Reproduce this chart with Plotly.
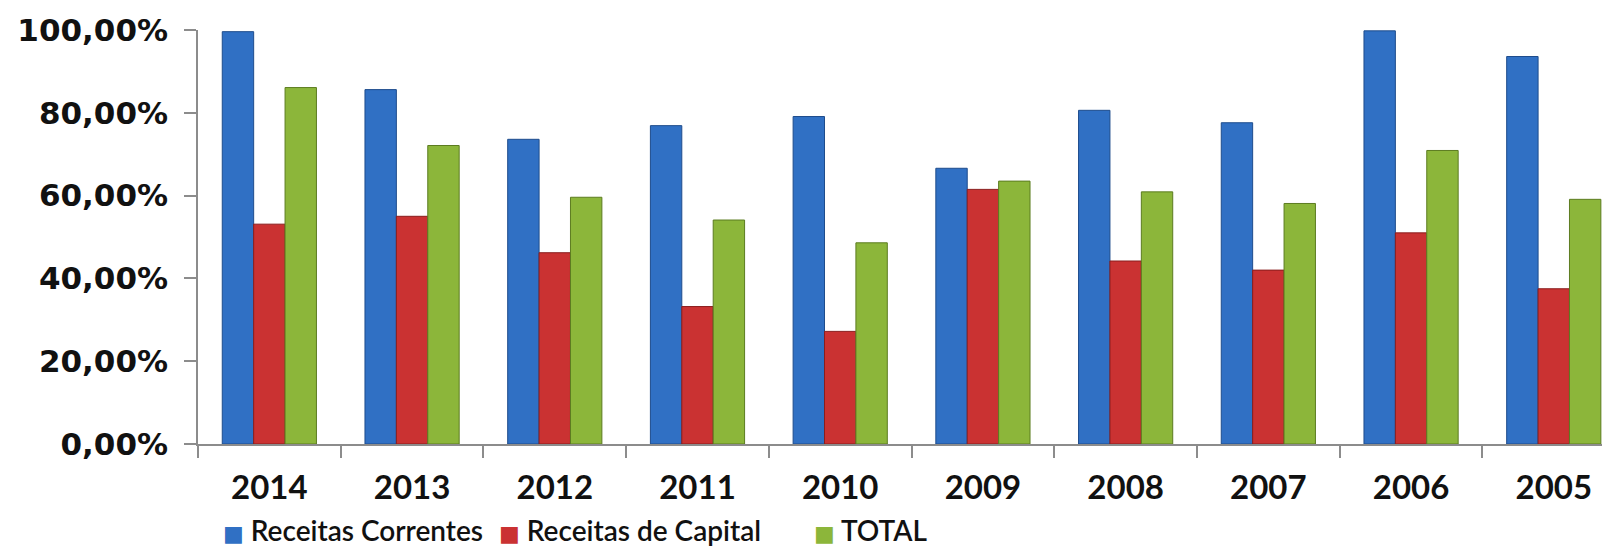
import plotly.graph_objects as go

years = ["2014", "2013", "2012", "2011", "2010", "2009", "2008", "2007", "2006", "2005"]
receitas_correntes = [99.6, 85.6, 73.6, 76.9, 79.1, 66.6, 80.6, 77.6, 99.8, 93.6]
receitas_capital = [53.1, 55.0, 46.2, 33.2, 27.2, 61.5, 44.2, 42.0, 51.0, 37.5]
total = [86.1, 72.1, 59.6, 54.1, 48.6, 63.5, 60.9, 58.1, 70.9, 59.1]

y_tickvals = [0, 20, 40, 60, 80, 100]
y_ticktext = ["0,00%", "20,00%", "40,00%", "60,00%", "80,00%", "100,00%"]

series_names = ["Receitas Correntes", "Receitas de Capital", "TOTAL"]
series_values = [receitas_correntes, receitas_capital, total]
series_colors = ["#3070C4", "#CA3232", "#8CB63A"]
series_edges = ["#1E4C8C", "#8A1D1D", "#5C7C20"]
legend_x = [0.017, 0.211, 0.433]

fig = go.Figure()
for name, vals, col, edge in zip(series_names, series_values, series_colors, series_edges):
    fig.add_trace(go.Bar(
        x=years, y=vals, name=name,
        marker=dict(color=col, line=dict(color=edge, width=1)),
    ))

# legend drawn as text entries (coloured square glyph + series name)
for name, col, lx in zip(series_names, series_colors, legend_x):
    fig.add_annotation(
        xref="paper", yref="paper", x=lx, y=-0.250, xanchor="left", yanchor="bottom",
        text=f"<span style='color:{col};font-family:DejaVu Sans;font-size:22px'>■</span> {name}",
        showarrow=False, borderpad=0,
        font=dict(family="Lato", size=28, color="#111111", weight=600),
    )

fig.update_layout(
    width=1610, height=550,
    paper_bgcolor="white", plot_bgcolor="white",
    barmode="group", bargap=0.34, bargroupgap=0.0,
    margin=dict(l=190, r=0, t=22, b=114),
    showlegend=False,
    font=dict(family="Lato", color="#111111"),
)

fig.update_xaxes(
    type="category", range=[-0.5, 9.45],
    showline=True, linecolor="#8c8c8c", linewidth=1.5,
    ticks="outside", tickson="boundaries", ticklen=12, tickcolor="#8c8c8c", tickwidth=1.5,
    tickfont=dict(family="Lato", size=33, color="#111111", weight="bold"),
    ticklabelstandoff=14,
    showgrid=False,
)
fig.update_yaxes(
    range=[0, 100], tickvals=y_tickvals, ticktext=y_ticktext,
    showline=True, linecolor="#8c8c8c", linewidth=1.5,
    ticks="outside", ticklen=12, tickcolor="#8c8c8c", tickwidth=1.5,
    tickfont=dict(family="DejaVu Sans", size=31, color="#111111", weight="bold"),
    ticklabelstandoff=10,
    showgrid=False, zeroline=False,
)

fig.write_html("out.html")
